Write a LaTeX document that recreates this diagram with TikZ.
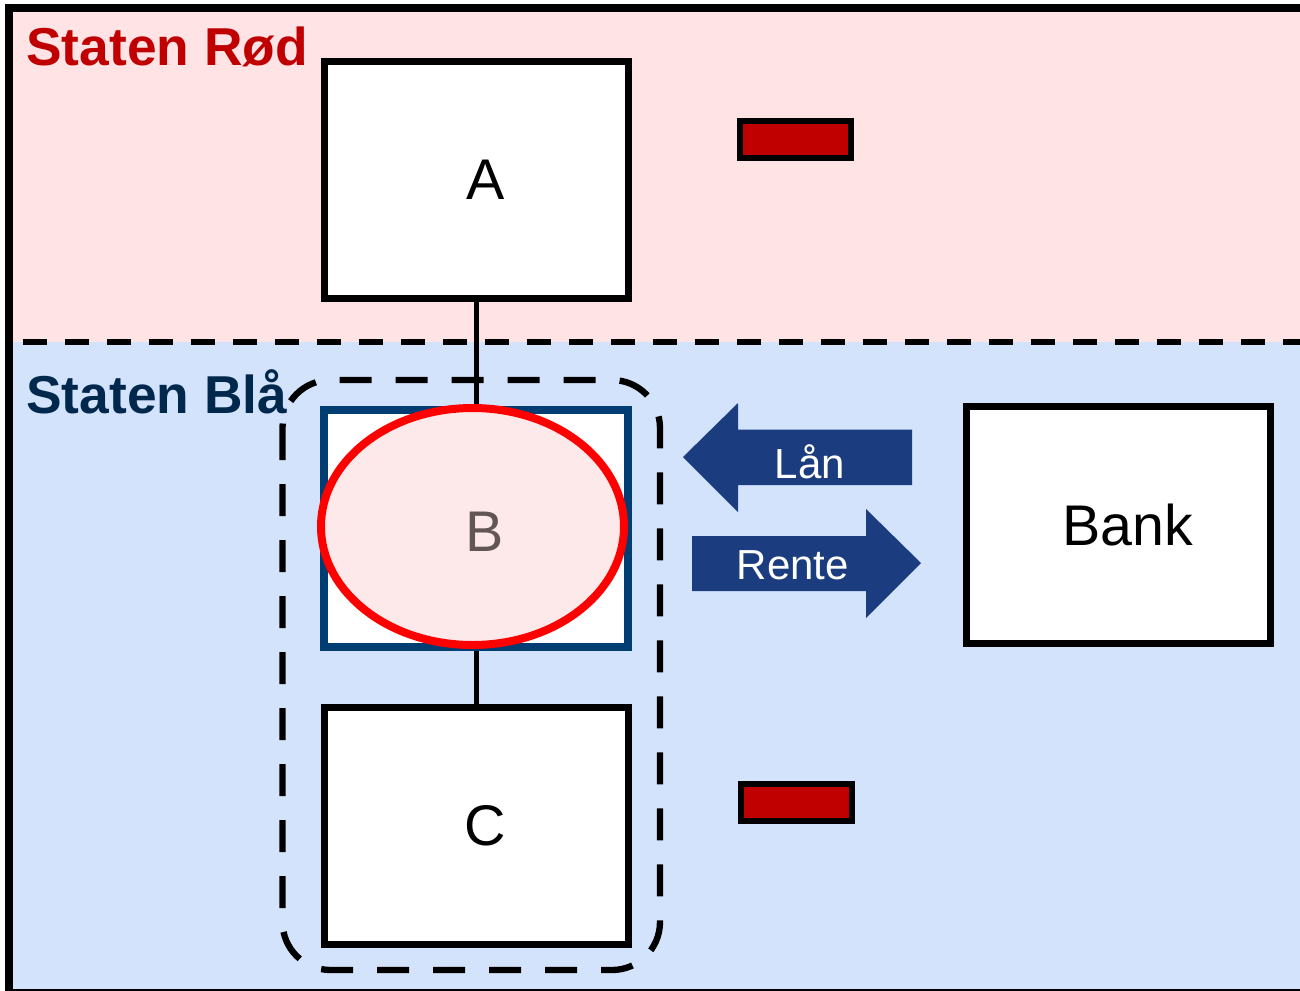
\documentclass[tikz,border=0pt]{standalone}
\usepackage{fontspec}
\setmainfont{Liberation Sans}
\usetikzlibrary{shapes.geometric}
\definecolor{pinkbg}{RGB}{255,227,229}
\definecolor{bluebg}{RGB}{211,227,252}
\definecolor{arrowblue}{RGB}{27,61,128}
\definecolor{navytext}{RGB}{0,40,77}
\definecolor{redtext}{RGB}{192,0,0}
\definecolor{bborder}{RGB}{0,61,115}
\definecolor{ellfill}{RGB}{253,233,233}
\definecolor{btext}{RGB}{100,85,85}
\tikzset{
  box/.style={draw=black, line width=5.75pt, fill=white, minimum width=228pt, minimum height=177.75pt, inner sep=0pt, font=\fontsize{43}{50}\selectfont},
  minusbar/.style={draw=black, line width=4.5pt, fill=redtext, minimum width=83.25pt, minimum height=27.75pt, inner sep=0pt},
  conn/.style={line width=4.25pt, black},
  arrowtxt/.style={text=white, font=\fontsize{31.5}{36}\selectfont, inner sep=0pt, anchor=base},
  statelabel/.style={font=\bfseries\fontsize{40}{46}\selectfont, inner sep=0pt, anchor=base west}
}
\begin{document}
\begin{tikzpicture}[x=0.75pt, y=-0.75pt]
\useasboundingbox (0,0) rectangle (1300,990);
% backgrounds
\fill[pinkbg] (9,7.5) rectangle (1300,342);
\fill[bluebg] (9,342) rectangle (1300,995);
% separator
\draw[line width=4.75pt, dash pattern=on 18pt off 13.5pt] (23,342) -- (1300,342);
% outer frame
\draw[line width=6pt] (9,7.5) rectangle (1330,993);
% labels
\node[statelabel, text=redtext] (rod) at (26,65) {Staten Rød};
\node[statelabel, text=navytext] (bla) at (26,413) {Staten Blå};
% boxes
\node[box] (A) at (476.5,180) {\hspace*{13.5pt}A};
\node[box, draw=bborder] (B) at (476,528.5) {};
\node[box] (C) at (476.5,826) {\hspace*{13.5pt}C};
\node[box] (Bank) at (1118.5,525) {\hspace*{14pt}Bank};
% connectors
\draw[conn] (A.south) -- (A.south |- B.north);
\draw[conn] (B.south -| C.north) -- (C.north);
% ellipse
\node[ellipse, draw=red, line width=6pt, fill=ellfill, minimum width=227.25pt, minimum height=177.75pt, inner sep=0pt] (Bell) at (472.5,526.5) {};
\node[text=btext, font=\fontsize{43}{50}\selectfont, inner sep=0pt] (Btxt) at (484.5,531.5) {B};
% group
\draw[line width=4.75pt, dash pattern=on 24pt off 18pt, rounded corners=36pt] (282.5,380) rectangle (660,970);
% minus bars
\node[minusbar] (neg1) at (795.5,139.5) {};
\node[minusbar] (neg2) at (796.5,802.5) {};
% arrows
\fill[arrowblue] (683,457) -- (738,403) -- (738,429.5) -- (912,429.5) -- (912,485) -- (738,485) -- (738,512) -- cycle;
\node[arrowtxt] (lan) at (810,478) {Lån};
\fill[arrowblue] (692,536) -- (866,536) -- (866,509) -- (921,563) -- (866,618) -- (866,591) -- (692,591) -- cycle;
\node[arrowtxt] (rente) at (793,579) {Rente};
\end{tikzpicture}
\end{document}
